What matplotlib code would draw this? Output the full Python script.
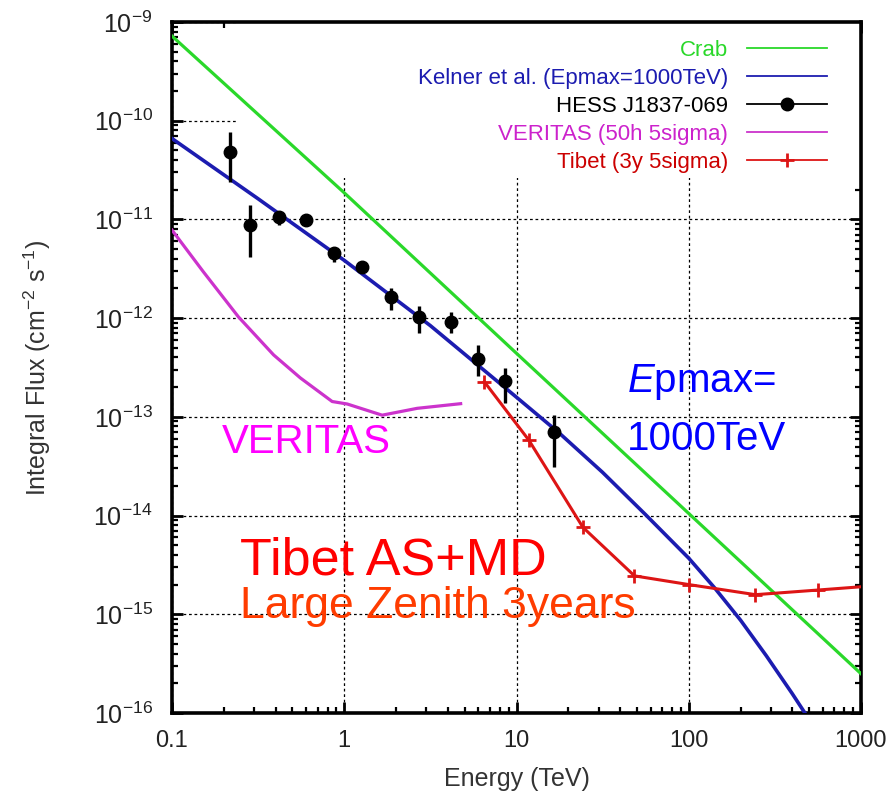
import matplotlib
matplotlib.use("Agg")
import matplotlib.pyplot as plt
from matplotlib.lines import Line2D
from matplotlib.patches import Rectangle
from matplotlib.ticker import NullFormatter, FixedLocator, FixedFormatter, LogLocator

plt.rcParams['font.family'] = ['Liberation Sans', 'DejaVu Sans']
plt.rcParams['mathtext.fontset'] = 'custom'
plt.rcParams['mathtext.rm'] = 'Liberation Sans'
plt.rcParams['mathtext.it'] = 'Liberation Sans:italic'
plt.rcParams['mathtext.bf'] = 'Liberation Sans:bold'
plt.rcParams['mathtext.default'] = 'regular'

# ---- data ----
crab_E = [0.1, 1, 10, 100, 1000]
crab_F = [7.2e-10, 1.86e-11, 4.4e-13, 1.05e-14, 2.5e-16]

kelner_E = [0.1, 0.316, 1, 3.16, 10, 17.8, 31.6, 56.2, 100, 141, 200, 282, 398, 562]
kelner_F = [6.6e-11, 1.62e-11, 3.85e-12, 8.4e-13, 1.58e-13, 6.8e-14, 2.74e-14,
            1.02e-14, 3.7e-15, 1.86e-15, 8.7e-16, 3.8e-16, 1.58e-16, 6.3e-17]

hess_E = [0.218, 0.282, 0.416, 0.603, 0.869, 1.27, 1.86, 2.72, 4.15, 5.94, 8.6, 16.4]
hess_F = [4.85e-11, 8.8e-12, 1.06e-11, 9.9e-12, 4.54e-12, 3.3e-12, 1.65e-12,
          1.02e-12, 9.2e-13, 3.9e-13, 2.3e-13, 7.1e-14]
hess_hi = [7.6e-11, 1.4e-11, 1.18e-11, 1.05e-11, 5.3e-12, 3.6e-12, 2.0e-12,
           1.32e-12, 1.16e-12, 5.3e-13, 3.1e-13, 1.04e-13]
hess_lo = [2.4e-11, 4.2e-12, 8.8e-12, 9.3e-12, 3.7e-12, 3.0e-12, 1.21e-12,
           7.1e-13, 7.0e-13, 2.6e-13, 1.38e-13, 3.1e-14]

veritas_E = [0.1, 0.152, 0.243, 0.389, 0.556, 0.851, 1.04, 1.66, 2.65, 4.74]
veritas_F = [7.8e-12, 2.95e-12, 1.03e-12, 4.24e-13, 2.48e-13, 1.43e-13,
             1.35e-13, 1.04e-13, 1.22e-13, 1.36e-13]

tibet_E = [6.5, 11.8, 24.3, 48.4, 100, 244, 561, 1000]
tibet_F = [2.27e-13, 5.8e-14, 7.6e-15, 2.45e-15, 2.0e-15, 1.58e-15, 1.76e-15, 1.9e-15]

x_ticks = [0.1, 1, 10, 100, 1000]
x_ticklabels = ['0.1', '1', '10', '100', '1000']
y_ticks = [1e-16, 1e-15, 1e-14, 1e-13, 1e-12, 1e-11, 1e-10, 1e-9]
y_ticklabels = [r'$10^{-16}$', r'$10^{-15}$', r'$10^{-14}$', r'$10^{-13}$',
                r'$10^{-12}$', r'$10^{-11}$', r'$10^{-10}$', r'$10^{-9}$']

labels = ['Crab', 'Kelner et al. (Epmax=1000TeV)', 'HESS J1837-069',
          'VERITAS (50h 5sigma)', 'Tibet (3y 5sigma)']

# ---- colours ----
c_crab = '#2ad82a'
c_kel = '#1c1cb0'
c_ver = '#cc33cc'
c_tib = '#dd1515'

fig = plt.figure(figsize=(8.94, 8.02), dpi=100)
ax = fig.add_axes([172/894, 1-713/802, 689/894, 691/802])
ax.set_xscale('log')
ax.set_yscale('log')
ax.set_xlim(0.1, 1000)
ax.set_ylim(1e-16, 1e-9)
ax.set_axisbelow(True)

ax.grid(True, which='major', color='black', linestyle=(0, (2.2, 2.2)), linewidth=0.9)

# white key area hiding grid
ax.add_patch(Rectangle((0.094, 0.774), 0.906, 0.226, transform=ax.transAxes,
                       facecolor='white', edgecolor='none', zorder=1))

l_crab, = ax.plot(crab_E, crab_F, color=c_crab, lw=2.3, zorder=3)
l_kel, = ax.plot(kelner_E, kelner_F, color=c_kel, lw=2.6, zorder=3)
ax.errorbar(hess_E, hess_F,
            yerr=[[f - lo for f, lo in zip(hess_F, hess_lo)],
                  [hi - f for f, hi in zip(hess_F, hess_hi)]],
            fmt='o', color='black', ms=9, elinewidth=2.4, capsize=0, zorder=4)
l_ver, = ax.plot(veritas_E, veritas_F, color=c_ver, lw=2.3, zorder=3)
l_tib, = ax.plot(tibet_E, tibet_F, color=c_tib, lw=2.2, marker='+', ms=10, mew=2.0,
                 markevery=list(range(len(tibet_E) - 1)), zorder=3)

# ticks
ax.xaxis.set_major_locator(FixedLocator(x_ticks))
ax.xaxis.set_major_formatter(FixedFormatter(x_ticklabels))
ax.xaxis.set_minor_locator(LogLocator(base=10, subs=range(2, 10), numticks=20))
ax.xaxis.set_minor_formatter(NullFormatter())
ax.yaxis.set_major_locator(FixedLocator(y_ticks))
ax.yaxis.set_major_formatter(FixedFormatter(y_ticklabels))
ax.yaxis.set_minor_locator(LogLocator(base=10, subs=range(2, 10), numticks=20))
ax.yaxis.set_minor_formatter(NullFormatter())

ax.tick_params(which='both', direction='in', top=True, right=True, colors='black',
               labelcolor='#222222')
ax.tick_params(which='major', length=8, width=2.0)
ax.tick_params(which='minor', length=4, width=1.6)
ax.tick_params(axis='y', which='major', labelsize=18, pad=14)
ax.tick_params(axis='x', which='major', labelsize=17, pad=12)
for s in ax.spines.values():
    s.set_linewidth(2.6)

ax.set_xlabel('Energy (TeV)', fontsize=18, color='#333333')
ax.set_ylabel(r'Integral Flux (cm$^{-2}$ s$^{-1}$)', fontsize=18, color='#333333')
ax.xaxis.set_label_coords(0.5, -0.078)
ax.yaxis.set_label_coords(-0.173, 0.5)

# legend
h_hess = Line2D([], [], color='black', marker='o', ms=9, lw=1.2)
handles = [l_crab, l_kel, h_hess, l_ver, l_tib]
leg = ax.legend(handles, labels, loc='upper right', bbox_to_anchor=(0.9506, 0.9737),
                frameon=False, markerfirst=False, numpoints=1, fontsize=16,
                handlelength=3.6, handletextpad=0.86, labelspacing=0.31,
                borderpad=0, borderaxespad=0,
                labelcolor=[c_crab, c_kel, 'black', '#cc22cc', '#cc0000'])
for ln in leg.get_lines():
    ln.set_linewidth(1.3)
leg.set_zorder(2)

# annotations
ax.text(0.0726, 0.3763, 'VERITAS', transform=ax.transAxes, fontsize=29,
        color='#ff00ff', va='baseline', ha='left', zorder=5)
ax.text(0.660, 0.4646, r'$\mathit{E}$pmax=', transform=ax.transAxes, fontsize=29,
        color='#0000ff', va='baseline', ha='left', zorder=5)
ax.text(0.660, 0.3806, '1000TeV', transform=ax.transAxes, fontsize=29,
        color='#0000ff', va='baseline', ha='left', zorder=5)
ax.text(0.0987, 0.2005, 'Tibet AS+MD', transform=ax.transAxes, fontsize=37.5,
        color='#ff0000', va='baseline', ha='left', zorder=5)
ax.text(0.0987, 0.1381, 'Large Zenith 3years', transform=ax.transAxes, fontsize=32,
        color='#ff3c00', va='baseline', ha='left', zorder=5)

fig.savefig('out.png', dpi=100)
